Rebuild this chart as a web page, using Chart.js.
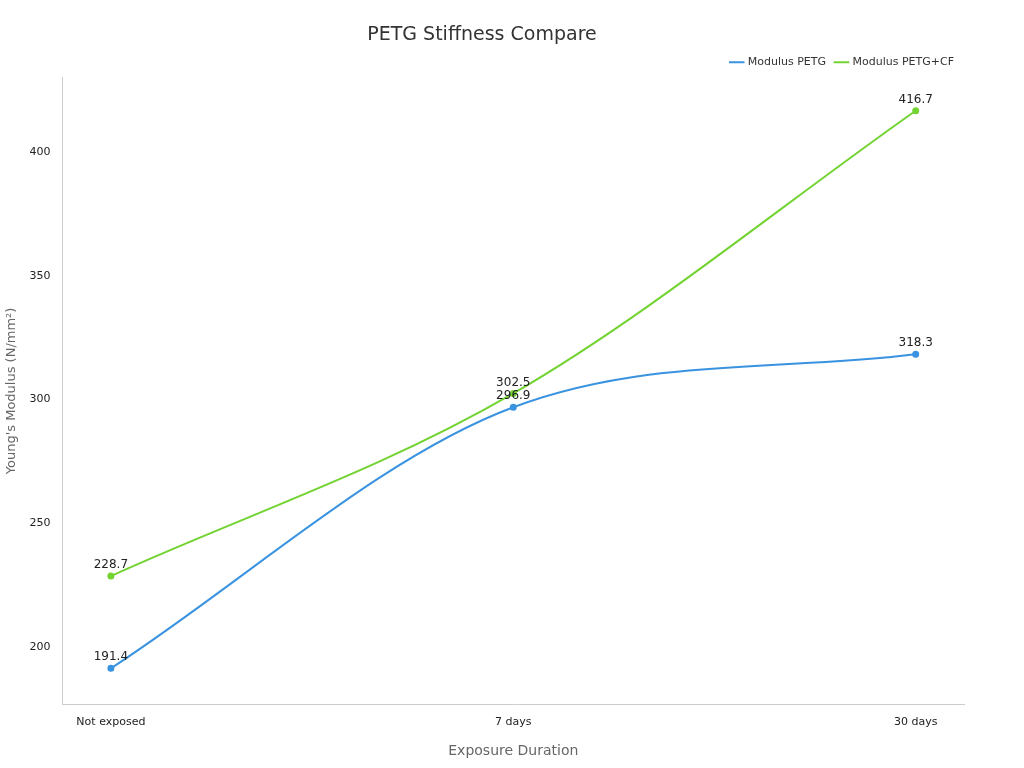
<!DOCTYPE html>
<html>
<head>
<meta charset="utf-8">
<script src="https://cdn.jsdelivr.net/npm/chart.js@4"></script>
<style>
  body { margin: 0; background: #fff; }
  #wrap { width: 1024px; height: 768px; }
</style>
</head>
<body>
<div id="wrap"><canvas id="chart"></canvas></div>
<script>
const categories = ["Not exposed", "7 days", "30 days"];
const modulusPetg = [191.4, 296.9, 318.3];
const modulusPetgCf = [228.7, 302.5, 416.7];
const yTicks = [200, 250, 300, 350, 400];

const toPoints = (vals) => vals.map((v, i) => ({ x: i, y: v }));

// draws value labels above each point
const valueLabels = {
    id: "valueLabels",
    afterDatasetsDraw(chart) {
        const ctx = chart.ctx;
        ctx.save();
        ctx.font = "12px 'DejaVu Sans'";
        ctx.fillStyle = "#222";
        ctx.textAlign = "center";
        ctx.textBaseline = "bottom";
        chart.data.datasets.forEach((ds, di) => {
            chart.getDatasetMeta(di).data.forEach((pt, i) => {
                ctx.fillText(ds.data[i].y.toFixed(1), pt.x, pt.y - 5);
            });
        });
        ctx.restore();
    },
};

new Chart(document.getElementById("chart"), {
    type: "line",
    data: {
        datasets: [
            {
                label: "Modulus PETG",
                data: toPoints(modulusPetg),
                borderColor: "#3a93e0",
                backgroundColor: "#3a93e0",
                borderWidth: 2,
                pointRadius: 2.5,
                cubicInterpolationMode: "monotone",
            },
            {
                label: "Modulus PETG+CF",
                data: toPoints(modulusPetgCf),
                borderColor: "#72d332",
                backgroundColor: "#72d332",
                borderWidth: 2,
                pointRadius: 2.5,
                cubicInterpolationMode: "monotone",
            },
        ],
    },
    options: {
        responsive: true,
        maintainAspectRatio: false,
        animation: false,
        layout: { padding: { left: 0, right: 60, top: 14, bottom: 4 } },
        plugins: {
            title: {
                display: true,
                text: "PETG Stiffness Compare",
                color: "#333",
                font: { family: "'DejaVu Sans'", size: 19, weight: "normal" },
                padding: { top: 10, bottom: 0 },
            },
            legend: {
                align: "end",
                labels: {
                    usePointStyle: true,
                    pointStyle: "line",
                    boxWidth: 30,
                    padding: 10,
                    color: "#333",
                    font: { family: "'DejaVu Sans'", size: 11 },
                },
            },
            tooltip: { enabled: false },
        },
        scales: {
            x: {
                type: "linear",
                min: -0.12,
                max: 2.12,
                afterBuildTicks: (axis) => { axis.ticks = categories.map((c, i) => ({ value: i })); },
                ticks: {
                    callback: (v) => categories[v],
                    color: "#222",
                    padding: 4,
                    font: { family: "'DejaVu Sans'", size: 11 },
                },
                grid: { display: false },
                border: { color: "#ccc" },
                title: {
                    display: true,
                    text: "Exposure Duration",
                    color: "#666",
                    font: { family: "'DejaVu Sans'", size: 14 },
                    padding: { top: 10 },
                },
            },
            y: {
                min: 177,
                max: 430,
                afterBuildTicks: (axis) => { axis.ticks = yTicks.map((v) => ({ value: v })); },
                ticks: {
                    color: "#222",
                    padding: 4,
                    font: { family: "'DejaVu Sans'", size: 11 },
                },
                grid: { display: false },
                border: { color: "#ccc" },
                title: {
                    display: true,
                    text: "Young's Modulus (N/mm²)",
                    color: "#666",
                    font: { family: "'DejaVu Sans'", size: 13 },
                    padding: { bottom: 6 },
                },
            },
        },
    },
    plugins: [valueLabels],
});
</script>
</body>
</html>
